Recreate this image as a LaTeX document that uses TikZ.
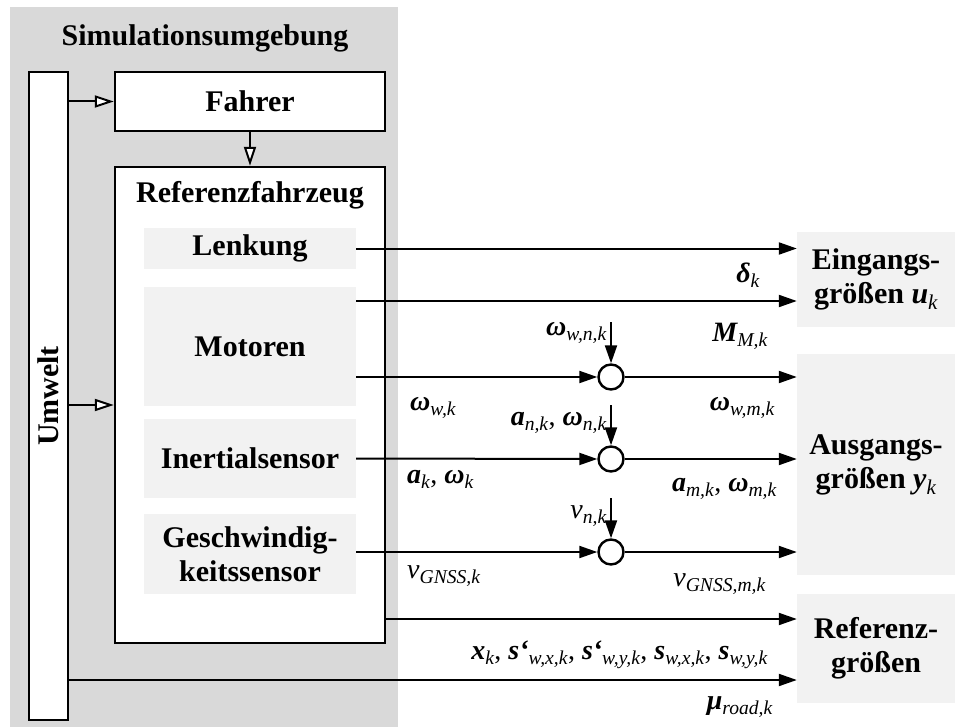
\documentclass[tikz,border=0pt]{standalone}
\usepackage{fontspec}
\setmainfont{Liberation Serif}
\usetikzlibrary{arrows.meta,positioning}
\definecolor{envgray}{HTML}{D9D9D9}
\definecolor{subgray}{HTML}{F2F2F2}
\newcommand{\bv}[2]{{\bfseries\itshape #1}\textsubscript{\mdseries\itshape #2}}
\newcommand{\nv}[2]{{\mdseries\itshape #1}\textsubscript{\mdseries\itshape #2}}

\begin{document}
\begin{tikzpicture}[
  x=1pt, y=-1pt,
  txt/.style={font=\fontsize{30}{34}\selectfont\bfseries},
  blk/.style={txt, draw, line width=2.4pt, fill=white, inner sep=0pt},
  sub/.style={txt, fill=subgray, minimum width=212pt, align=center, inner sep=0pt},
  outbox/.style={txt, fill=subgray, minimum width=158pt, align=center, inner sep=0pt},
  sum/.style={circle, draw, line width=2.4pt, fill=white, minimum size=25pt, inner sep=0pt},
  sig/.style={-{Triangle[length=18pt,width=12pt]}, line width=2pt},
  flow/.style={-{Triangle[open,fill=white,length=19pt,width=12pt]}, line width=2pt},
  lbl/.style={font=\fontsize{28}{30}\selectfont, inner sep=0pt},
]
\useasboundingbox (0,0) rectangle (957,727);
\fill[envgray] (10,7) rectangle (398,727);
\node[txt] (simtitle) at (205,38) {Simulationsumgebung};

\node[blk, minimum width=39pt, minimum height=648pt] (umw) at (48.5,396) {};
\node[txt, rotate=90] at (umw.center) {Umwelt};
\node[blk, minimum width=270pt, minimum height=59pt] (fah) at (250,101.5) {Fahrer};
\node[blk, minimum width=270pt, minimum height=476pt] (ref) at (250,405) {};
\node[txt] (reftitle) at (250,195) {Referenzfahrzeug};

\node[sub, minimum height=41pt] (lenk) at (250,248.5) {Lenkung};
\node[sub, minimum height=119pt] (mot) at (250,346.5) {Motoren};
\node[sub, minimum height=79pt] (ins) at (250,458.5) {Inertialsensor};
\node[sub, minimum height=80pt] (ges) at (250,554) {Geschwindig-\\keitssensor};

\node[outbox, minimum height=95pt] (eing) at (876,279.5) {Eingangs-\\größen \bv{u}{k}};
\node[outbox, minimum height=221pt] (ausg) at (876,464.5) {Ausgangs-\\größen \bv{y}{k}};
\node[outbox, minimum height=109pt] (refg) at (876,648.5) {Referenz-\\größen};

\node[sum] (s1) at (611,377) {};
\node[sum] (s2) at (611,459) {};
\node[sum] (s3) at (611,552) {};

\draw[flow] (fah.west -| umw.east) -- (fah.west);
\draw[flow] (ref.west -| umw.east) -- (ref.west);
\draw[flow] (fah.south) -- (ref.north);

\draw[sig] (lenk.east) -- (lenk.east -| eing.west);
\node[lbl, anchor=base east] at (760,282) {\bv{δ}{k}};
\draw[sig] ([yshift=45.5pt]mot.east) -- ([yshift=45.5pt]mot.east -| eing.west);
\node[lbl, anchor=base east] at (768,341) {\bv{M}{M,k}};

\draw[sig] ([yshift=-30.5pt]mot.east) -- (s1.west);
\draw[sig] (s1.east) -- (s1.east -| ausg.west);
\draw[sig] ([yshift=41pt]s1.north) -- (s1.north);
\node[lbl, anchor=base east] at (607,335) {\bv{ω}{w,n,k}};
\node[lbl, anchor=base west] at (410,410) {\bv{ω}{w,k}};
\node[lbl, anchor=base east] at (775,410) {\bv{ω}{w,m,k}};

\draw[sig] (ins.east) -- (s2.west);
\draw[sig] (s2.east) -- (s2.east -| ausg.west);
\draw[sig] ([yshift=40pt]s2.north) -- (s2.north);
\node[lbl, anchor=base east] at (607,425) {\bv{a}{n,k}, \bv{ω}{n,k}};
\node[lbl, anchor=base west] at (407,483) {\bv{a}{k}, \bv{ω}{k}};
\node[lbl, anchor=base east] at (777,491) {\bv{a}{m,k}, \bv{ω}{m,k}};

\draw[sig] (ges.east |- s3.west) -- (s3.west);
\draw[sig] (s3.east) -- (s3.east -| ausg.west);
\draw[sig] ([yshift=40pt]s3.north) -- (s3.north);
\node[lbl, anchor=base east] at (607,518) {\nv{v}{n,k}};
\node[lbl, anchor=base west] at (407,578) {\nv{v}{GNSS,k}};
\node[lbl, anchor=base east] at (766,586) {\nv{v}{GNSS,m,k}};

\draw[sig] ([yshift=29.5pt]refg.west -| ref.east) -- ([yshift=29.5pt]refg.west);
\node[lbl, anchor=base east] at (768,659) {\bv{x}{k}, \bv{s‘}{w,x,k}, \bv{s‘}{w,y,k}, \bv{s}{w,x,k}, \bv{s}{w,y,k}};
\draw[sig] ([yshift=-31.5pt]refg.west -| umw.east) -- ([yshift=-31.5pt]refg.west);
\node[lbl, anchor=base east] at (773,709) {\bv{μ}{road,k}};
\end{tikzpicture}
\end{document}
